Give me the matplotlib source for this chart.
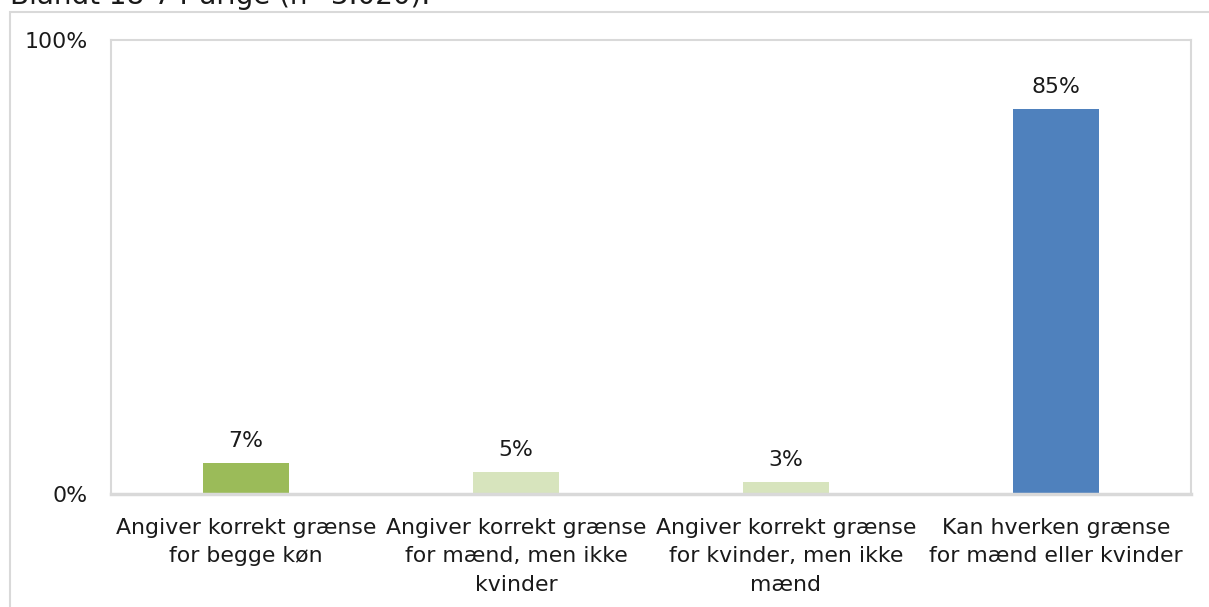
import matplotlib.pyplot as plt
from matplotlib.patches import Rectangle

# --- Data ---
categories = [
    "Angiver korrekt grænse\nfor begge køn",
    "Angiver korrekt grænse\nfor mænd, men ikke\nkvinder",
    "Angiver korrekt grænse\nfor kvinder, men ikke\nmænd",
    "Kan hverken grænse\nfor mænd eller kvinder",
]
values = [6.8, 4.8, 2.6, 84.8]
value_labels = ["7%", "5%", "3%", "85%"]
bar_colors = ["#9BBB59", "#D7E4BD", "#D7E4BD", "#4F81BD"]
y_ticks = [0, 100]
y_tick_labels = ["0%", "100%"]
title_text = "Blandt 18-74-årige (n=3.020)."

plt.rcParams['font.family'] = ['DejaVu Sans']

W, H = 1209, 607
fig = plt.figure(figsize=(W / 100, H / 100), dpi=100)

# outer chart border
fig.patches.append(Rectangle((10 / W, -0.01), 1.2, 1 - 12 / H + 0.01,
                             transform=fig.transFigure, fill=False,
                             edgecolor='#D9D9D9', linewidth=1.5))

# partially cut title above the chart
fig.text(10 / W, 1 - 4 / H, title_text, fontsize=20, color='#1a1a1a',
         ha='left', va='baseline')

ax = fig.add_axes([111 / W, 1 - 494 / H, 1080 / W, 454 / H])
x = range(len(categories))
ax.bar(x, values, width=0.315, color=bar_colors, zorder=2)

fs = 15.8
for xi, v, lab in zip(x, values, value_labels):
    ax.annotate(lab, (xi, v), xytext=(0, 9), textcoords='offset points',
                ha='center', va='bottom', fontsize=fs, color='#1a1a1a')

ax.set_xlim(-0.5, len(categories) - 0.5)
ax.set_ylim(0, 100)
ax.set_yticks(y_ticks)
ax.set_yticklabels(y_tick_labels, fontsize=fs, color='#1a1a1a')
ax.set_xticks(list(x))
ax.set_xticklabels(categories, fontsize=fs, color='#1a1a1a', linespacing=1.55)
ax.tick_params(axis='both', length=0)
ax.tick_params(axis='y', pad=17)
ax.tick_params(axis='x', pad=17)
for side in ['left', 'right', 'top', 'bottom']:
    ax.spines[side].set_color('#D9D9D9')
    ax.spines[side].set_linewidth(1.5)
ax.spines['bottom'].set_linewidth(2.5)

fig.savefig('out.png', dpi=100)
